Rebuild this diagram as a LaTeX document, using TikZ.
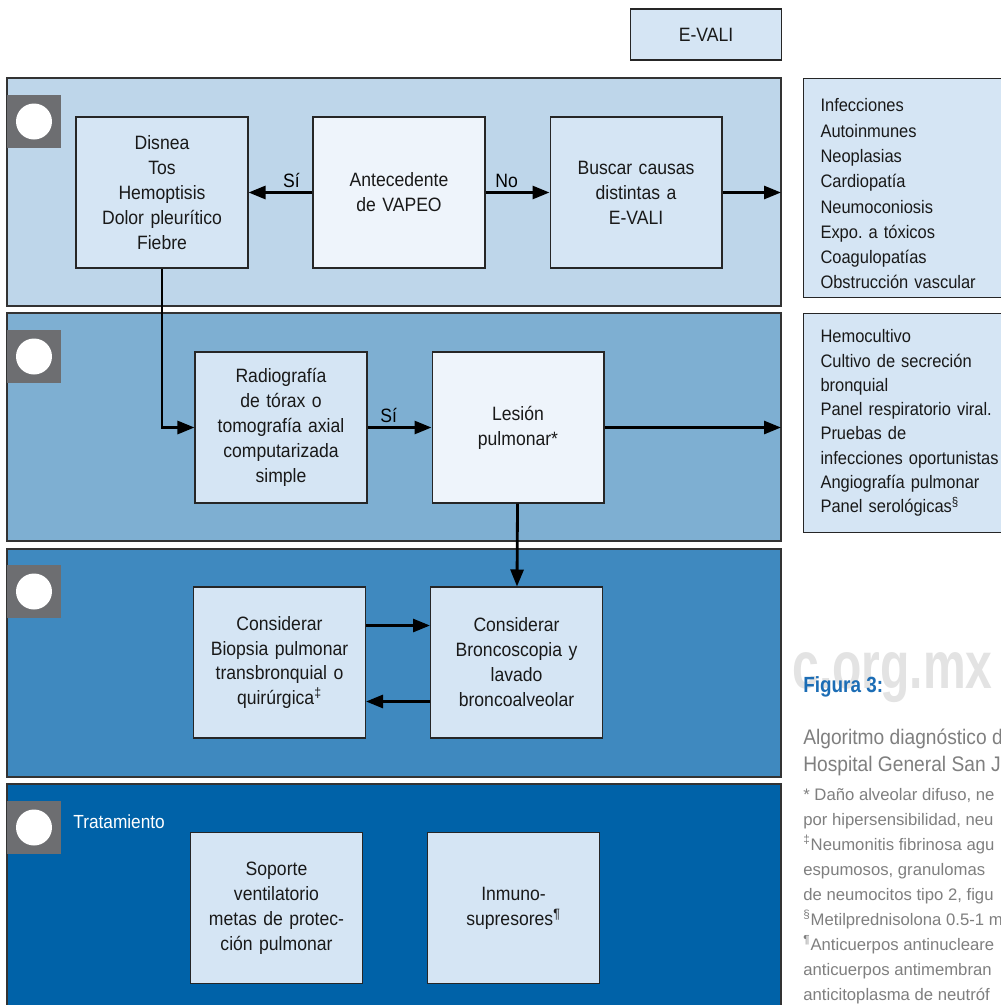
\documentclass[tikz,border=0pt]{standalone}
\usepackage{fontspec}
\setmainfont{Liberation Sans}
\newfontfamily\fuenteDiag[FakeStretch=0.91]{Liberation Sans}
\newfontfamily\fuenteFig[FakeStretch=0.86]{Liberation Sans}
\frenchspacing
\usetikzlibrary{positioning, arrows.meta}
\definecolor{clrFranjaA}{HTML}{BED6EA}
\definecolor{clrFranjaB}{HTML}{7EAFD2}
\definecolor{clrFranjaC}{HTML}{3F89BF}
\definecolor{clrFranjaD}{HTML}{0062A8}
\definecolor{clrCaja}{HTML}{D5E5F4}
\definecolor{clrCajaClara}{HTML}{EEF4FB}
\definecolor{clrMarca}{HTML}{6D6E71}
\definecolor{clrFigura}{HTML}{1C6DB5}
\definecolor{clrLeyenda}{HTML}{7F7F7F}
\definecolor{clrAgua}{HTML}{E3E3E3}
\tikzstyle{box_base}=[draw=black!85, line width=0.6pt, text=black!90,
font=\fuenteDiag\fontsize{11}{14.2}\selectfont]
\tikzstyle{paso}=[box_base, anchor=center, text centered, text width=32mm,
minimum width=34.4mm, minimum height=30.2mm, inner sep=0pt, fill=clrCaja]
\tikzstyle{paso_claro}=[paso, fill=clrCajaClara]
\tikzstyle{lista}=[box_base, anchor=north west, align=left, text width=43mm,
inner xsep=3.4mm, inner ysep=0pt, minimum height=43.8mm, fill=clrCaja]
\tikzstyle{flecha}=[-{Triangle[length=3.4mm,width=2.6mm]}, line width=1.6pt]
\tikzstyle{franja}=[draw=black!80, line width=0.6pt]
\tikzstyle{etiqueta}=[above, pos=0.33, inner sep=2pt, font=\fuenteDiag\fontsize{11}{13}\selectfont]

\begin{document}
\begin{tikzpicture}[x=0.02cm, y=-0.02cm]
	\clip (0,0) rectangle (1001,1005);
	\fill[white] (0,0) rectangle (1001,1005);

	% franjas de fondo
	\draw[franja, fill=clrFranjaA] (7,78) rectangle (781,306);
	\draw[franja, fill=clrFranjaB] (7,313) rectangle (781,541);
	\draw[franja, fill=clrFranjaC] (7,549) rectangle (781,777);
	\draw[franja, fill=clrFranjaD] (7,784) rectangle (781,1030);
	\coordinate (borde) at (781,0);

	% marcas con circulo
	\foreach \y in {95,330,565,801} {
		\fill[clrMarca] (7,\y) rectangle ++(54,53);
		\fill[white] (34,\y+26.5) circle[radius=3.6mm];
	}

	% marca de agua
	\node[anchor=base west, inner sep=0pt, text=clrAgua,
	font=\bfseries\fontsize{38}{38}\selectfont] (agua) at (792,688) {\scalebox{0.72}[1]{c.org.mx}};

	\node[box_base, fill=clrCaja, minimum width=30.2mm, minimum height=10.2mm] (evali) at (706,34.5) {E-VALI};

	% fila 1
	\node[paso] (disnea) at (162,192.5) {Disnea\\Tos\\Hemoptisis\\Dolor pleurítico\\Fiebre};
	\node[paso_claro, right=1.28cm of disnea] (antecedente) {Antecedente\\de VAPEO};
	\node[paso, right=1.28cm of antecedente] (buscar) {Buscar causas\\distintas a\\E-VALI};
	\draw[flecha] (antecedente) -- node[etiqueta] {Sí} (disnea);
	\draw[flecha] (antecedente) -- node[etiqueta] {No} (buscar);
	\draw[flecha] (buscar) -- (buscar -| borde);

	% fila 2
	\node[paso] (radiografia) at (281,427.5) {Radiografía\\de tórax o\\tomografía axial\\computarizada\\simple};
	\node[paso_claro, right=1.28cm of radiografia] (lesion) {Lesión\\pulmonar*};
	\draw[flecha] (disnea.south) |- (radiografia.west);
	\draw[flecha] (radiografia) -- node[etiqueta] {Sí} (lesion);
	\draw[flecha] (lesion) -- (lesion -| borde);

	% fila 3
	\node[paso] (biopsia) at (279.5,662.5) {Considerar\\Biopsia pulmonar\\transbronquial o\\quirúrgica\textsuperscript{‡}};
	\node[paso, right=1.28cm of biopsia] (bronco) {Considerar\\Broncoscopia y\\lavado\\broncoalveolar};
	\draw[flecha] (lesion) -- (bronco);
	\draw[flecha] ([yshift=7.4mm]biopsia.east) -- ([yshift=7.4mm]bronco.west);
	\draw[flecha] ([yshift=-7.8mm]bronco.west) -- ([yshift=-7.8mm]biopsia.east);

	% fila 4
	\node[anchor=base west, inner sep=0pt, text=white, font=\fuenteDiag\fontsize{10.8}{12}\selectfont] (tratamiento) at (73,828) {Tratamiento};
	\node[paso] (soporte) at (276.5,908) {Soporte\\ventilatorio\\metas de protec-\\ción pulmonar};
	\node[paso, right=1.28cm of soporte] (inmuno) {Inmuno-\\supresores\textsuperscript{¶}};

	% listas de la derecha
	\node[lista, font=\fuenteDiag\fontsize{10.3}{14.4}\selectfont] (causas) at (803,78) {\rule{0pt}{5mm}Infecciones\\Autoinmunes\\Neoplasias\\Cardiopatía\\Neumoconiosis\\Expo. a tóxicos\\Coagulopatías\\Obstrucción vascular};
	\node[lista, font=\fuenteDiag\fontsize{10.3}{13.8}\selectfont] (pruebas) at (803,313) {Hemocultivo\\Cultivo de secreción\\bronquial\\Panel respiratorio viral.\\Pruebas de\\infecciones oportunistas\\Angiografía pulmonar\\Panel serológicas\textsuperscript{§}};

	% leyenda
	\node[anchor=base west, inner sep=0pt, text=clrFigura, font=\fuenteFig\bfseries\fontsize{12.5}{14}\selectfont] (figura) at (803,692) {Figura 3:};
	\node[anchor=north west, inner sep=0pt, align=left, text=clrLeyenda, font=\fuenteDiag\fontsize{12}{15.2}\selectfont] (titulo) at (803,729) {Algoritmo diagnóstico d\\Hospital General San J};
	\node[anchor=north west, inner sep=0pt, align=left, text=clrLeyenda, font=\fontsize{9.5}{14.2}\selectfont] (notas) at (803,788) {* Daño alveolar difuso, ne\\por hipersensibilidad, neu\\\textsuperscript{‡}Neumonitis fibrinosa agu\\espumosos, granulomas\\de neumocitos tipo 2, figu\\\textsuperscript{§}Metilprednisolona 0.5-1 m\\\textsuperscript{¶}Anticuerpos antinucleare\\anticuerpos antimembran\\anticitoplasma de neutróf};
\end{tikzpicture}
\end{document}
